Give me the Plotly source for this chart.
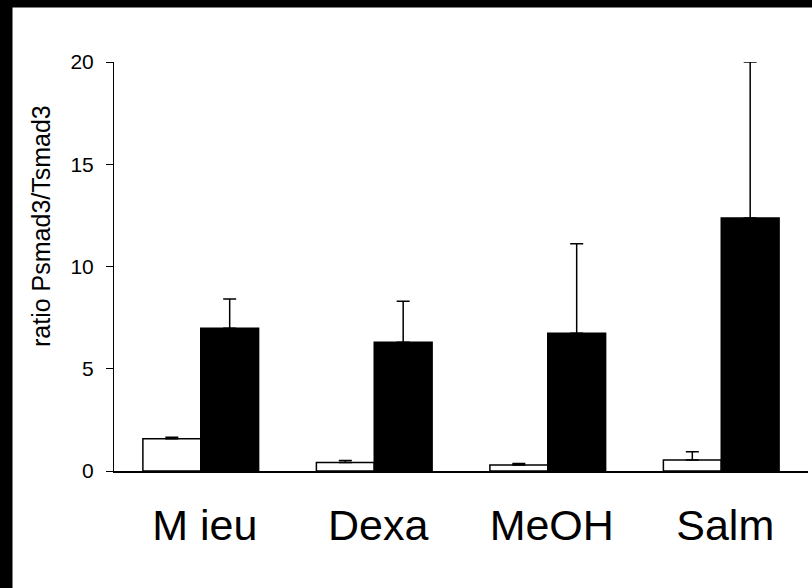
import plotly.graph_objects as go

categories = ["M ieu", "Dexa", "MeOH", "Salm"]
white_values = [1.58, 0.41, 0.29, 0.54]
white_err = [0.07, 0.10, 0.08, 0.40]
black_values = [6.98, 6.29, 6.73, 12.37]
black_err = [1.43, 2.01, 4.38, 7.63]
y_ticks = [0, 5, 10, 15, 20]

FONT = "Liberation Sans, Arial, Helvetica, sans-serif"

fig = go.Figure()
fig.add_trace(go.Bar(
    x=categories, y=white_values,
    marker=dict(color="white", line=dict(color="black", width=1.5)),
    error_y=dict(type="data", symmetric=False, array=white_err,
                 arrayminus=[0] * len(white_err),
                 color="black", thickness=1.5, width=6.5),
    showlegend=False, hoverinfo="skip",
))
fig.add_trace(go.Bar(
    x=categories, y=black_values,
    marker=dict(color="black", line=dict(color="black", width=1.5)),
    error_y=dict(type="data", symmetric=False, array=black_err,
                 arrayminus=[0] * len(black_err),
                 color="black", thickness=1.5, width=6.5),
    showlegend=False, hoverinfo="skip",
))

fig.update_layout(
    width=812, height=588,
    margin=dict(l=114, r=4, t=62, b=117, pad=0),
    paper_bgcolor="white", plot_bgcolor="white",
    barmode="group", bargap=0.333, bargroupgap=0,
    font=dict(family=FONT, color="black"),
    xaxis=dict(
        showline=True, linecolor="black", linewidth=1.5,
        ticks="", showgrid=False, zeroline=False,
        tickfont=dict(size=43, family=FONT, color="black"),
        ticklabelstandoff=16, ticklabelshift=4,
        range=[-0.5, 3.5],
    ),
    yaxis=dict(
        range=[0, 20], tickvals=y_ticks,
        showline=True, linecolor="black", linewidth=1,
        ticks="outside", ticklen=7, tickwidth=1, tickcolor="black",
        showgrid=False, zeroline=False,
        tickfont=dict(size=21, family=FONT, color="black"),
        ticklabelstandoff=8,
    ),
    annotations=[dict(
        text="ratio Psmad3/Tsmad3", xref="paper", yref="paper",
        x=(41 - 114) / 694, y=(471 - 226) / 409, textangle=-90,
        showarrow=False, font=dict(size=25, family=FONT, color="black"),
        xanchor="center", yanchor="middle",
    )],
    shapes=[
        dict(type="rect", xref="paper", yref="paper",
             x0=-0.3, x1=1.2, y0=(471 - 7.5) / 409, y1=1.3,
             fillcolor="black", line=dict(width=0), layer="above"),
        dict(type="rect", xref="paper", yref="paper",
             x0=-0.3, x1=(12.5 - 114) / 694, y0=-0.5, y1=1.3,
             fillcolor="black", line=dict(width=0), layer="above"),
    ],
)

fig.write_html("out.html", config={"displayModeBar": False},
               post_script="document.body.style.margin='0';")
